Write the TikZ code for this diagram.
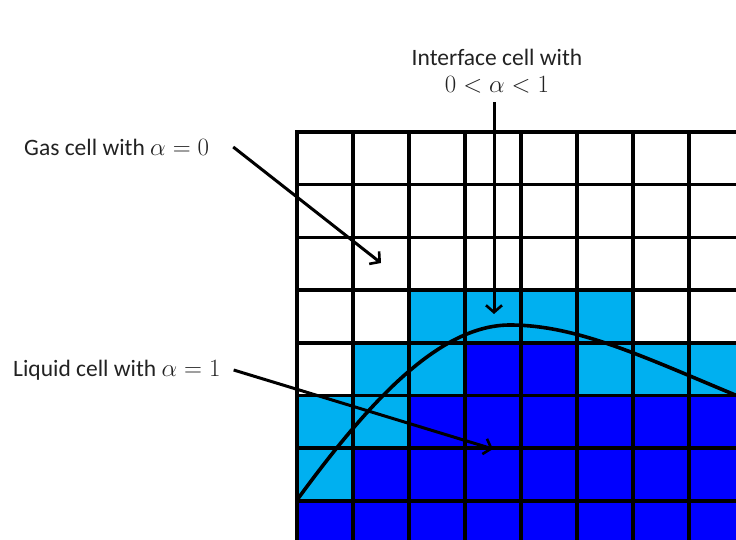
\documentclass[tikz,border=0pt]{standalone}
\usepackage[no-math]{fontspec}
\setmainfont{Carlito}
\usetikzlibrary{arrows.meta}
\definecolor{ink}{RGB}{0,0,0}
\definecolor{txt}{RGB}{34,34,34}
\definecolor{ifacefill}{RGB}{0,176,240}
\definecolor{liqfill}{RGB}{0,0,255}
\tikzset{
  lbl/.style={font=\fontsize{23.5}{27}\selectfont, inner sep=0pt, text=txt, align=center},
  gridln/.style={line width=3.6pt, draw=ink, line cap=rect},
  ptr/.style={-{Straight Barb[length=7pt,width=16pt,line width=2.6pt]}, line width=3pt, draw=ink},
  surf/.style={line width=3.6pt, draw=ink},
}

\begin{document}
\begin{tikzpicture}[x=1pt,y=-1pt]
  \useasboundingbox (0,0) rectangle (736,540);
  \clip (0,0) rectangle (736,540);

  % Cell fills (col/row/colour)
  \foreach \c/\r/\f in {2/3/ifacefill, 3/3/ifacefill, 4/3/ifacefill, 5/3/ifacefill,
      1/4/ifacefill, 2/4/ifacefill, 3/4/liqfill, 4/4/liqfill, 5/4/ifacefill, 6/4/ifacefill, 7/4/ifacefill,
      0/5/ifacefill, 1/5/ifacefill, 2/5/liqfill, 3/5/liqfill, 4/5/liqfill, 5/5/liqfill, 6/5/liqfill, 7/5/liqfill,
      0/6/ifacefill, 1/6/liqfill, 2/6/liqfill, 3/6/liqfill, 4/6/liqfill, 5/6/liqfill, 6/6/liqfill, 7/6/liqfill,
      0/7/liqfill, 1/7/liqfill, 2/7/liqfill, 3/7/liqfill, 4/7/liqfill, 5/7/liqfill, 6/7/liqfill, 7/7/liqfill}
    \fill[\f] (297+56*\c,132+52.7*\r) rectangle ++(56,52.7);

  % Grid lines
  \foreach \c in {0,...,8}
    \draw[gridln] (297+56*\c,132) -- (297+56*\c,560);
  \foreach \r in {0,...,8}
    \draw[gridln] (297,132+52.7*\r) -- (760,132+52.7*\r);

  % Interface curve
  \draw[surf] (297,500) .. controls (370,400) and (440,325) .. (510,325)
    .. controls (580,325) and (650,360) .. (745,399);

  % Labels
  \node[lbl, anchor=west] (gas) at (24,147) {Gas cell with $\alpha = 0$};
  \node[lbl, anchor=west] (liq) at (13,370) {Liquid cell with $\alpha = 1$};
  \node[lbl] (iface) at (497,71) {Interface cell with\\$0 < \alpha < 1$};

  % Pointer targets
  \coordinate (gastip) at (381,263);
  \coordinate (liqtip) at (493,449);
  \coordinate (ifacetip) at (494,314);

  % Pointers
  \draw[ptr] ([xshift=24pt]gas.east) -- (gastip);
  \draw[ptr] ([xshift=13pt]liq.east) -- (liqtip);
  \draw[ptr] ([yshift=-9pt]iface.south -| ifacetip) -- (ifacetip);
\end{tikzpicture}
\end{document}
